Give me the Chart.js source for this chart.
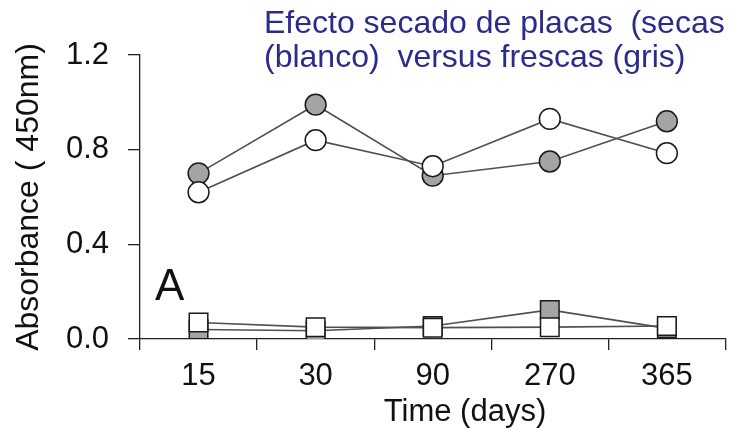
<!DOCTYPE html>
<html>
<head>
<meta charset="utf-8">
<script src="https://cdn.jsdelivr.net/npm/chart.js@4"></script>
<style>
  html, body { margin: 0; padding: 0; background: #ffffff; }
  #wrap { width: 740px; height: 438px; position: relative; }
</style>
</head>
<body>
<div id="wrap"><canvas id="c" width="740" height="438"></canvas></div>
<script>
// ---- data ----
const days = ['15', '30', '90', '270', '365'];
const yTicks = [0, 0.4, 0.8, 1.2];
const whiteCircles = [0.62, 0.84, 0.73, 0.93, 0.785];   // secas (blanco)
const grayCircles  = [0.70, 0.99, 0.69, 0.75, 0.92];    // frescas (gris)
const whiteSquares = [0.07, 0.05, 0.048, 0.05, 0.055];
const graySquares  = [0.04, 0.035, 0.055, 0.123, 0.045];
const titleLines = ['Efecto secado de placas  (secas', '(blanco)  versus frescas (gris)'];
const panelLabel = 'A';
const xTitle = 'Time (days)';
const yTitle = 'Absorbance ( 450nm)';

const FAM = '"Liberation Sans", Arial, Helvetica, sans-serif';
const LINE = '#505050';
const EDGE = '#1a1a1a';
const GRAY = '#a4a4a4';

function ds(data, fill, style, radius, order) {
  return {
    data: data,
    borderColor: LINE,
    borderWidth: 1.6,
    pointStyle: style,
    pointRadius: radius,
    pointBackgroundColor: fill,
    pointBorderColor: EDGE,
    pointBorderWidth: 1.5,
    fill: false,
    tension: 0,
    order: order
  };
}

const textPlugin = {
  id: 'texts',
  afterDraw(chart) {
    const ctx = chart.ctx;
    ctx.save();
    ctx.textAlign = 'left';
    ctx.textBaseline = 'alphabetic';
    ctx.fillStyle = '#2b2b8c';
    ctx.font = '32px ' + FAM;
    ctx.fillText(titleLines[0], 264, 32.5);
    ctx.fillText(titleLines[1], 264, 67);
    ctx.fillStyle = '#111';
    ctx.font = '44px ' + FAM;
    ctx.fillText(panelLabel, 155, 300);
    ctx.font = '31px ' + FAM;
    ctx.textAlign = 'center';
    ctx.fillText(xTitle, 465, 421);
    ctx.restore();
  }
};

new Chart(document.getElementById('c'), {
  type: 'line',
  data: {
    labels: days,
    datasets: [
      ds(graySquares, GRAY, 'rect', 13.1, 4),
      ds(whiteSquares, '#ffffff', 'rect', 13.1, 3),
      ds(grayCircles, GRAY, 'circle', 10.4, 2),
      ds(whiteCircles, '#ffffff', 'circle', 10.4, 1)
    ]
  },
  options: {
    responsive: false,
    animation: false,
    devicePixelRatio: 1,
    layout: { padding: { top: 55, left: 0, right: 0, bottom: 0 } },
    plugins: { legend: { display: false }, tooltip: { enabled: false }, title: { display: false } },
    scales: {
      x: {
        type: 'category',
        offset: true,
        grid: { offset: true, drawOnChartArea: false, drawTicks: true, tickLength: 11, color: '#222', lineWidth: 1.3 },
        border: { display: true, color: '#222', width: 1.3 },
        ticks: { color: '#111', font: { family: FAM, size: 31, lineHeight: 1 }, padding: 11, maxRotation: 0, autoSkip: false },
        afterFit: s => { s.height = 99; }
      },
      y: {
        min: 0,
        max: 1.2,
        afterBuildTicks: s => { s.ticks = yTicks.map(v => ({ value: v })); },
        grid: { drawOnChartArea: false, drawTicks: true, tickLength: 12, color: '#222', lineWidth: 1.3 },
        border: { display: true, color: '#222', width: 1.3 },
        ticks: { color: '#111', font: { family: FAM, size: 31 }, padding: 19, callback: v => Number(v).toFixed(1) },
        title: { display: true, text: yTitle, color: '#111', font: { family: FAM, size: 32, lineHeight: 1.2 }, padding: { top: 10, bottom: 0 } },
        afterFit: s => { s.width = 140; }
      }
    }
  },
  plugins: [textPlugin]
});
</script>
</body>
</html>
